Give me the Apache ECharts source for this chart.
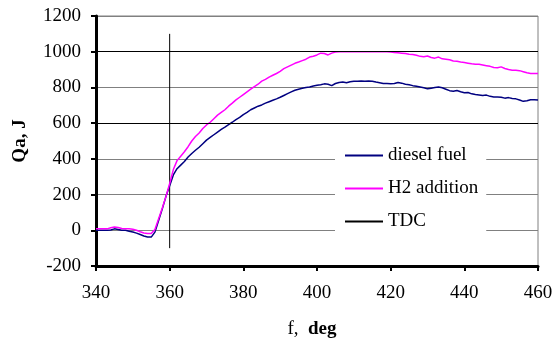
<!DOCTYPE html>
<html>
<head>
<meta charset="utf-8">
<script src="https://cdn.jsdelivr.net/npm/echarts@6/dist/echarts.min.js"></script>
<style>
html, body { margin: 0; padding: 0; background: #fff; }
#main { width: 560px; height: 347px; }
</style>
</head>
<body>
<div id="main"></div>
<script>
var myChart = echarts.init(document.getElementById('main'));

// crank angle, deg (1 deg step)
var angle = [];
for (var a = 340; a <= 460; a++) angle.push(a);

var dieselFuel = [
	0, 0, 0, 0, 2, 8, 4, 0, 0, -5,
	-10, -16, -24, -32, -38, -38, -10, 55, 120, 190,
	250, 310, 345, 365, 385, 410, 430, 448, 465, 485,
	505, 520, 535, 550, 565, 578, 592, 605, 620, 632,
	648, 660, 675, 685, 695, 702, 712, 720, 728, 736,
	745, 755, 765, 775, 784, 790, 795, 800, 802, 808,
	812, 815, 820, 818, 810, 822, 828, 830, 826, 832,
	835, 834, 836, 834, 836, 835, 830, 826, 822, 822,
	821, 822, 828, 824, 818, 815, 810, 806, 802, 798,
	792, 796, 800, 802, 798, 790, 782, 779, 783, 776,
	770, 772, 764, 760, 758, 755, 757, 750, 746, 746,
	745, 740, 743, 738, 736, 730, 722, 725, 731, 731,
	730
];

var h2Addition = [
	8, 8, 8, 8, 14, 18, 16, 10, 9, 8,
	6, 0, -8, -15, -18, -18, 5, 65, 125, 190,
	262, 340, 390, 415, 440, 468, 500, 525, 545, 570,
	590, 605, 625, 645, 660, 675, 695, 712, 730, 745,
	760, 775, 790, 805, 818, 835, 845, 858, 868, 878,
	890, 905, 915, 925, 935, 942, 950, 958, 970, 975,
	982, 992, 990, 982, 992, 998, 1000, 1000, 1000, 1000,
	1000, 1000, 1000, 1000, 1000, 1000, 1000, 1000, 1000, 1000,
	998, 996, 994, 992, 990, 986, 984, 980, 974, 972,
	976, 968, 964, 970, 960, 958, 955, 948, 946, 942,
	940, 936, 932, 930, 930, 926, 922, 918, 912, 910,
	915, 906, 900, 896, 896, 894, 888, 882, 878, 878,
	878
];

var tdcAngle = [360, 360];
var tdcValue = [-100, 1100];

var blackLines = [600, 1000]; // darker grid lines

function pairs(xs, ys) {
	var out = [];
	for (var i = 0; i < xs.length; i++) out.push([xs[i], ys[i]]);
	return out;
}

var font = 'Liberation Serif';

var option = {
	animation: false,
	grid: {
		left: 96,
		right: 22,
		top: 16,
		bottom: 81,
		show: true,
		borderColor: '#808080',
		borderWidth: 1
	},
	legend: {
		orient: 'vertical',
		left: 335,
		top: 139,
		padding: [7, 8, 8, 9],
		backgroundColor: '#fff',
		itemWidth: 38,
		itemHeight: 14,
		itemGap: 14,
		itemStyle: { opacity: 0 },
		textStyle: { fontFamily: font, fontSize: 19, color: '#000' },
		data: ['diesel fuel', 'H2 addition', 'TDC']
	},
	xAxis: {
		type: 'value',
		min: 340,
		max: 460,
		interval: 20,
		name: '{n|f,  }{b|deg}',
		nameLocation: 'middle',
		nameGap: 54,
		nameTextStyle: {
			padding: [0, 10, 0, 0],
			rich: {
				n: { fontFamily: font, fontSize: 19, color: '#000' },
				b: { fontFamily: font, fontSize: 19, fontWeight: 'bold', color: '#000' }
			}
		},
		axisLine: { onZero: false, lineStyle: { color: '#000', width: 3 } },
		axisTick: { show: true, length: 5, lineStyle: { color: '#000', width: 2 } },
		axisLabel: { fontFamily: font, fontSize: 19, color: '#000', margin: 18, formatter: function (v) { return String(v); } },
		splitLine: { show: false }
	},
	yAxis: {
		type: 'value',
		min: -200,
		max: 1200,
		interval: 200,
		name: 'Qa, J',
		nameLocation: 'middle',
		nameGap: 66,
		nameTextStyle: { fontFamily: font, fontSize: 19, fontWeight: 'bold', color: '#000' },
		axisLine: { show: true, lineStyle: { color: '#000', width: 3 } },
		axisTick: { show: true, length: 5, lineStyle: { color: '#000', width: 2 } },
		axisLabel: { fontFamily: font, fontSize: 19, color: '#000', margin: 15, formatter: function (v) { return String(v); } },
		splitLine: { show: true, lineStyle: { color: '#808080', width: 1 } }
	},
	series: [{
		name: 'TDC',
		type: 'line',
		symbol: 'none',
		color: '#000',
		lineStyle: { color: '#000', width: 1 },
		data: pairs(tdcAngle, tdcValue),
		markLine: {
			silent: true,
			symbol: 'none',
			label: { show: false },
			lineStyle: { color: '#000', width: 1, type: 'solid' },
			data: blackLines.map(function (v) { return { yAxis: v }; })
		}
	}, {
		name: 'diesel fuel',
		type: 'line',
		symbol: 'none',
		color: '#000080',
		lineStyle: { color: '#000080', width: 1.5 },
		data: pairs(angle, dieselFuel)
	}, {
		name: 'H2 addition',
		type: 'line',
		symbol: 'none',
		color: '#FF00FF',
		lineStyle: { color: '#FF00FF', width: 1.5 },
		data: pairs(angle, h2Addition)
	}]
};
myChart.setOption(option);
</script>
</body>
</html>
